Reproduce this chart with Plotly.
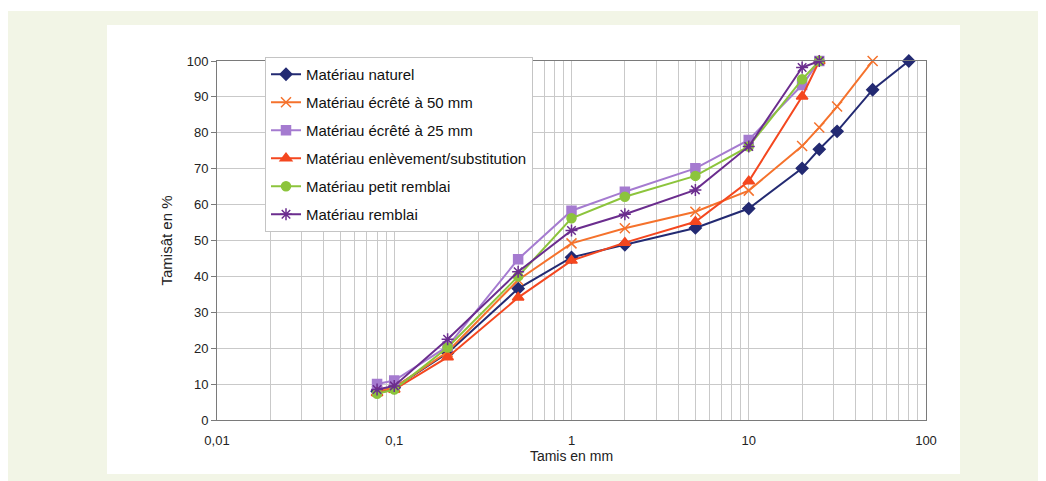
import plotly.graph_objects as go

# Data
sieves = [0.08, 0.1, 0.2, 0.5, 1, 2, 5, 10, 20, 25, 31.5, 50, 80]
names = ["Matériau naturel", "Matériau écrêté à 50 mm", "Matériau écrêté à 25 mm",
         "Matériau enlèvement/substitution", "Matériau petit remblai", "Matériau remblai"]
naturel = [8, 9, 18.7, 36.6, 45.3, 48.8, 53.5, 58.9, 70.1, 75.4, 80.4, 92, 100]
ecrete50 = [8, 9, 19, 39, 49.2, 53.4, 58, 63.9, 76.3, 81.5, 87.3, 100]
ecrete25 = [10, 11, 20.5, 44.8, 58.3, 63.6, 70.1, 78, 93.3, 100]
enlevement = [7.5, 8.5, 17.5, 34.1, 44.4, 49.4, 55.2, 66.5, 90.1, 100]
petit_remblai = [7.3, 8.5, 20.2, 40, 56.2, 62.2, 68, 76.2, 94.9, 100]
remblai = [8.5, 9.5, 22.5, 41.3, 52.8, 57.3, 64.1, 76.2, 98.2, 100]

x_major_labels = ["0,01", "0,1", "1", "10", "100"]
y_ticks = [0, 10, 20, 30, 40, 50, 60, 70, 80, 90, 100]

series = [naturel, ecrete50, ecrete25, enlevement, petit_remblai, remblai]
colors = ["#232a72", "#f5722c", "#a57bd0", "#f4471f", "#8cc43c", "#6b2d8e"]
symbols = ["diamond", "x-thin-open", "square", "triangle-up", "circle", "asterisk-open"]
msizes = [9, 10, 9, 10, 9, 10]

# page body has an 8px margin: work in div coordinates
OFF = 8
W, H = 1046 - OFF, 481 - OFF
L, R, T, B = 217 - OFF, 926 - OFF, 61 - OFF, 420 - OFF
pw, ph = R - L, B - T

def px(x):
    return (x - OFF - L) / pw

def py(y):
    return (B - (y - OFF)) / ph

fig = go.Figure()
for i, (nm, ys) in enumerate(zip(names, series)):
    fig.add_trace(go.Scatter(
        x=sieves[:len(ys)], y=ys, name=nm, mode="lines+markers",
        legendgroup=str(i),
        line=dict(color=colors[i], width=2),
        marker=dict(symbol=symbols[i], size=msizes[i], color=colors[i],
                    line=dict(color=colors[i], width=1.5)),
        cliponaxis=False,
    ))

# tick positions for log grid
tickvals = []
ticktext = []
decades = [0.01, 0.1, 1, 10]
for j, d in enumerate(decades):
    for m in range(1, 10):
        tickvals.append(m * d)
        ticktext.append(x_major_labels[j] if m == 1 else "")
tickvals.append(100)
ticktext.append(x_major_labels[-1])

font_fam = "Liberation Sans, Arial, sans-serif"

fig.update_layout(
    width=W, height=H,
    margin=dict(l=L, r=W - R, t=T, b=H - B, pad=0),
    paper_bgcolor="white",
    plot_bgcolor="white",
    font=dict(family=font_fam, size=13, color="#222"),
    showlegend=True,
    legend=dict(
        x=px(265), y=py(57), xanchor="left", yanchor="top",
        bgcolor="white", bordercolor="#c4c4c4", borderwidth=1,
        font=dict(family=font_fam, size=15, color="#111"),
        tracegroupgap=5.5, traceorder="grouped",
    ),
    shapes=[
        dict(type="rect", xref="paper", yref="paper", layer="below",
             x0=px(0), x1=px(1046), y0=py(481), y1=py(11),
             fillcolor="#f2f5e6", line=dict(width=0)),
        dict(type="rect", xref="paper", yref="paper", layer="below",
             x0=px(107), x1=px(960), y0=py(474), y1=py(25),
             fillcolor="white", line=dict(width=0)),
    ],
)

fig.update_xaxes(
    type="log", range=[-2, 2],
    tickmode="array", tickvals=tickvals, ticktext=ticktext,
    showgrid=True, gridcolor="#c9c9c9", gridwidth=1,
    ticks="outside", ticklen=8, tickcolor="rgba(0,0,0,0)",
    showline=True, linecolor="#7a7a7a", linewidth=1, mirror=True,
    zeroline=False,
    tickfont=dict(size=13),
    title=dict(text="Tamis en mm", font=dict(size=14, color="#222"), standoff=0),
)
fig.update_yaxes(
    range=[0, 100], tickmode="array", tickvals=y_ticks,
    showgrid=True, gridcolor="#c9c9c9", gridwidth=1,
    ticks="outside", ticklen=5, tickcolor="#7a7a7a",
    showline=True, linecolor="#7a7a7a", linewidth=1, mirror=True,
    zeroline=False,
    tickfont=dict(size=13),
    title=dict(text="Tamisât en %", font=dict(size=15, color="#222"), standoff=10),
)

fig.write_html("out.html")
